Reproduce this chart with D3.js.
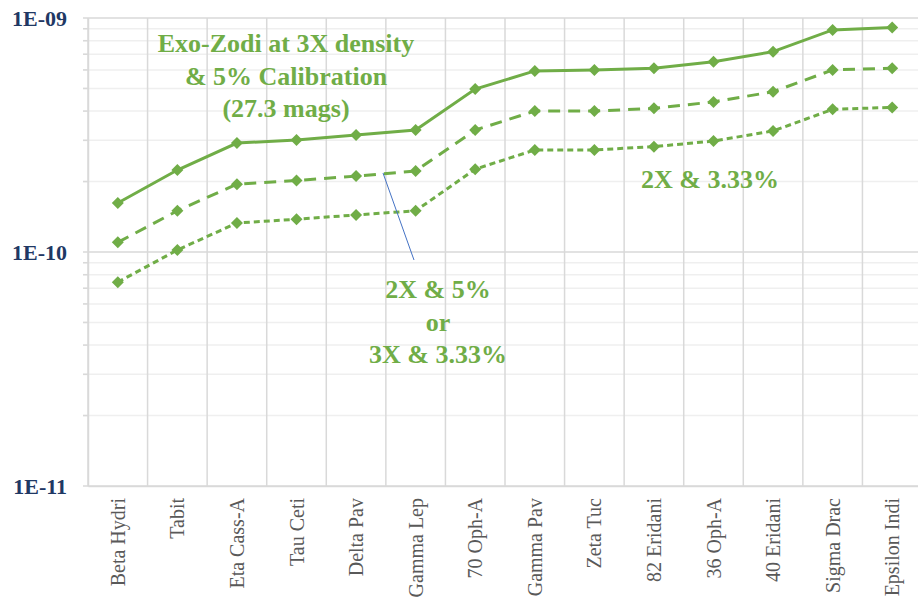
<!DOCTYPE html>
<html>
<head>
<meta charset="utf-8">
<script src="https://cdn.jsdelivr.net/npm/d3@7"></script>
<style>
  html, body { margin: 0; padding: 0; background: #ffffff; }
  svg { display: block; }
</style>
</head>
<body>
<svg id="chart" width="918" height="606"></svg>
<script>
// Stars along the x axis
const stars = ["Beta Hydri", "Tabit", "Eta Cass-A", "Tau Ceti", "Delta Pav", "Gamma Lep",
  "70 Oph-A", "Gamma Pav", "Zeta Tuc", "82 Eridani", "36 Oph-A", "40 Eridani",
  "Sigma Drac", "Epsilon Indi"];

// Exo-Zodi 3X density & 5% calibration (solid)
const zodi3x5 = [1.62e-10, 2.24e-10, 2.92e-10, 3.01e-10, 3.16e-10, 3.32e-10, 4.97e-10,
  5.94e-10, 6.0e-10, 6.1e-10, 6.5e-10, 7.18e-10, 8.89e-10, 9.1e-10];

// 2X & 5% or 3X & 3.33% (long dash)
const zodi2x5 = [1.10e-10, 1.50e-10, 1.95e-10, 2.02e-10, 2.11e-10, 2.22e-10, 3.32e-10,
  4.0e-10, 4.0e-10, 4.11e-10, 4.38e-10, 4.84e-10, 6.0e-10, 6.1e-10];

// 2X & 3.33% (short dash)
const zodi2x333 = [7.43e-11, 1.02e-10, 1.33e-10, 1.38e-10, 1.44e-10, 1.50e-10, 2.26e-10,
  2.73e-10, 2.73e-10, 2.82e-10, 2.98e-10, 3.29e-10, 4.07e-10, 4.15e-10];

// Decade tick labels
const yTickValues = [1e-11, 1e-10, 1e-9];
const yTickLabels = ["1E-11", "1E-10", "1E-09"];

const series = [
  { values: zodi3x5, dash: null },
  { values: zodi2x5, dash: "12,8" },
  { values: zodi2x333, dash: "6,4" }
];

const green = "#70ad47";
const svg = d3.select("#chart");
const plot = { left: 88, right: 922, top: 18, bottom: 486 };

const x = d3.scaleBand().domain(stars).range([plot.left, plot.right]);
const y = d3.scaleLog().domain([1e-11, 1e-9]).range([plot.bottom, plot.top]);

// Minor and major horizontal gridlines
const minorVals = [];
[1e-11, 1e-10].forEach(d => { for (let k = 2; k <= 9; k++) minorVals.push(d * k); });

svg.append("g").selectAll("line").data(minorVals).join("line")
  .attr("x1", plot.left - 5).attr("x2", plot.right)
  .attr("y1", d => y(d)).attr("y2", d => y(d))
  .attr("stroke", "#efefef").attr("stroke-width", 1.5);

// Vertical gridlines at category boundaries
const bounds = stars.map(s => x(s)).concat([plot.right]);
svg.append("g").selectAll("line").data(bounds).join("line")
  .attr("x1", d => d).attr("x2", d => d)
  .attr("y1", plot.top).attr("y2", plot.bottom)
  .attr("stroke", "#d9d9d9").attr("stroke-width", 1.5);

svg.append("g").selectAll("line").data(yTickValues).join("line")
  .attr("x1", plot.left - 5).attr("x2", plot.right)
  .attr("y1", d => y(d)).attr("y2", d => y(d))
  .attr("stroke", "#d9d9d9").attr("stroke-width", 1.5);

// Left tick marks for the minor steps
svg.append("g").selectAll("line").data(minorVals).join("line")
  .attr("x1", plot.left - 5).attr("x2", plot.left)
  .attr("y1", d => y(d)).attr("y2", d => y(d))
  .attr("stroke", "#d9d9d9").attr("stroke-width", 1.5);

// Y axis labels
const yAxis = d3.axisLeft(y).tickValues(yTickValues)
  .tickFormat((d, i) => yTickLabels[i]).tickSize(0).tickPadding(21);
const gy = svg.append("g").attr("transform", `translate(${plot.left},0)`).call(yAxis);
gy.select(".domain").attr("stroke", "#d9d9d9").attr("stroke-width", 1.5);
gy.selectAll("text")
  .attr("font-family", "'Liberation Serif', 'Times New Roman', serif")
  .attr("font-weight", "bold").attr("font-size", 22).attr("fill", "#1f3864");

// X axis labels, rotated
const xAxis = d3.axisBottom(x).tickSize(0).tickPadding(0);
const gx = svg.append("g").attr("transform", `translate(0,${plot.bottom})`).call(xAxis);
gx.select(".domain").attr("stroke", "#d9d9d9").attr("stroke-width", 1.5);
gx.selectAll("text")
  .attr("font-family", "'Liberation Serif', 'Times New Roman', serif")
  .attr("font-size", 20).attr("fill", "#595959")
  .attr("text-anchor", "end")
  .attr("transform", "rotate(-90)")
  .attr("x", -12).attr("y", 0).attr("dy", "0.35em");

// Series lines and diamond markers
const cx = s => x(s) + x.bandwidth() / 2;
const line = d3.line().x((d, i) => cx(stars[i])).y(d => y(d));
const diamond = "M0,-6L6,0L0,6L-6,0Z";

series.forEach(s => {
  svg.append("path").datum(s.values)
    .attr("d", line).attr("fill", "none")
    .attr("stroke", green).attr("stroke-width", 3)
    .attr("stroke-dasharray", s.dash);
  svg.append("g").selectAll("path").data(s.values).join("path")
    .attr("d", diamond)
    .attr("transform", (d, i) => `translate(${cx(stars[i])},${y(d)})`)
    .attr("fill", green);
});

// Leader line for the middle curve label
svg.append("line")
  .attr("x1", 383).attr("y1", 173).attr("x2", 414).attr("y2", 260)
  .attr("stroke", "#4472c4").attr("stroke-width", 1);

// Annotations
const notes = [
  { x: 286, y: 52, lines: ["Exo-Zodi at 3X density", "& 5% Calibration", "(27.3 mags)"] },
  { x: 438, y: 298, lines: ["2X & 5%", "or", "3X & 3.33%"] },
  { x: 710, y: 188, lines: ["2X & 3.33%"] }
];
notes.forEach(n => {
  svg.append("g").selectAll("text").data(n.lines).join("text")
    .attr("x", n.x).attr("y", (d, i) => n.y + i * 32.5)
    .attr("text-anchor", "middle")
    .attr("font-family", "'Liberation Serif', 'Times New Roman', serif")
    .attr("font-weight", "bold").attr("font-size", 26)
    .attr("fill", green)
    .text(d => d);
});
</script>
</body>
</html>
